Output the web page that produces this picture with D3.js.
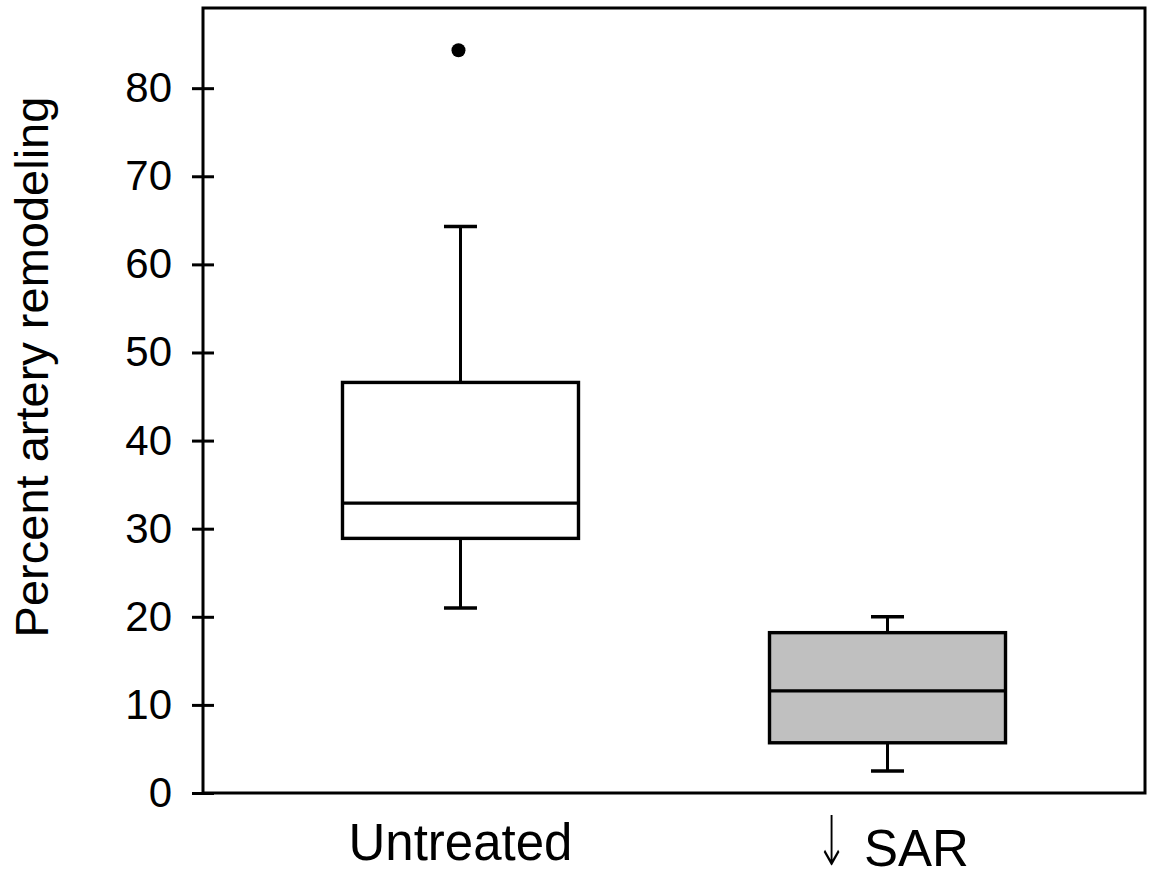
<!DOCTYPE html>
<html>
<head>
<meta charset="utf-8">
<script src="https://cdn.jsdelivr.net/npm/d3@7"></script>
<style>
  html, body { margin: 0; padding: 0; background: #fff; }
  svg { display: block; font-family: "Liberation Sans", Arial, sans-serif; }
</style>
</head>
<body>
<div id="chart"></div>
<script>
// Data
const groups = ['Untreated', 'SAR'];
const groupWords = ['Untreated', 'SAR'];
const groupArrows = ['', '\u2193'];
const lowerWhisker = [21.0, 2.5];
const q1 = [28.9, 5.7];
const median = [32.9, 11.6];
const q3 = [46.6, 18.2];
const upperWhisker = [64.3, 20.0];
const outliers = [[84.3], []];
const fills = ['#ffffff', '#c0c0c0'];
const yTicks = [0, 10, 20, 30, 40, 50, 60, 70, 80];

const width = 1149, height = 882;
const margin = { top: 8, right: 4, bottom: 89, left: 203 };

const svg = d3.select('#chart').append('svg')
    .attr('width', width)
    .attr('height', height);

const x = d3.scalePoint()
    .domain(groups)
    .range([margin.left, width - margin.right])
    .padding(0.603);

const y = d3.scaleLinear()
    .domain([0, 89.1])
    .range([height - margin.bottom, margin.top]);

const boxW = 236, capW = 33;

// Boxes
const box = svg.append('g')
    .selectAll('g')
    .data(groups)
    .join('g');

box.append('line')
    .attr('x1', d => x(d)).attr('x2', d => x(d))
    .attr('y1', (d, i) => y(upperWhisker[i])).attr('y2', (d, i) => y(q3[i]))
    .attr('stroke', '#000').attr('stroke-width', 3);
box.append('line')
    .attr('x1', d => x(d)).attr('x2', d => x(d))
    .attr('y1', (d, i) => y(q1[i])).attr('y2', (d, i) => y(lowerWhisker[i]))
    .attr('stroke', '#000').attr('stroke-width', 3);
box.append('line')
    .attr('x1', d => x(d) - capW / 2).attr('x2', d => x(d) + capW / 2)
    .attr('y1', (d, i) => y(upperWhisker[i])).attr('y2', (d, i) => y(upperWhisker[i]))
    .attr('stroke', '#000').attr('stroke-width', 3.5);
box.append('line')
    .attr('x1', d => x(d) - capW / 2).attr('x2', d => x(d) + capW / 2)
    .attr('y1', (d, i) => y(lowerWhisker[i])).attr('y2', (d, i) => y(lowerWhisker[i]))
    .attr('stroke', '#000').attr('stroke-width', 3.5);

box.append('rect')
    .attr('x', d => x(d) - boxW / 2)
    .attr('width', boxW)
    .attr('y', (d, i) => y(q3[i]))
    .attr('height', (d, i) => y(q1[i]) - y(q3[i]))
    .attr('fill', (d, i) => fills[i])
    .attr('stroke', '#000')
    .attr('stroke-width', 3.4);

box.append('line')
    .attr('x1', d => x(d) - boxW / 2).attr('x2', d => x(d) + boxW / 2)
    .attr('y1', (d, i) => y(median[i])).attr('y2', (d, i) => y(median[i]))
    .attr('stroke', '#000').attr('stroke-width', 3.2);

box.selectAll('circle')
    .data((d, i) => outliers[i].map(v => ({ g: d, v })))
    .join('circle')
    .attr('cx', d => x(d.g) - 2)
    .attr('cy', d => y(d.v))
    .attr('r', 7)
    .attr('fill', '#000');

// Frame
svg.append('rect')
    .attr('x', margin.left)
    .attr('y', margin.top)
    .attr('width', width - margin.left - margin.right)
    .attr('height', height - margin.top - margin.bottom)
    .attr('fill', 'none')
    .attr('stroke', '#000')
    .attr('stroke-width', 3);

// Y axis (ticks crossing the frame)
const yAxis = svg.append('g')
    .attr('transform', `translate(${margin.left + 11},0)`)
    .call(d3.axisLeft(y).tickValues(yTicks).tickSize(22).tickPadding(20).tickFormat(d3.format('d')));
yAxis.select('.domain').remove();
yAxis.selectAll('.tick line').attr('stroke', '#000').attr('stroke-width', 3);
yAxis.selectAll('.tick text')
    .attr('fill', '#000')
    .style('font-size', '42px')
    .style('font-family', '"Liberation Sans", Arial, sans-serif');

// X labels
const xl = svg.append('g')
    .selectAll('g')
    .data(groups)
    .join('g');

xl.append('text')
    .attr('x', (d, i) => x(d) + (groupArrows[i] ? 29 : 0))
    .attr('y', (d, i) => groupArrows[i] ? 866 : 860)
    .attr('text-anchor', 'middle')
    .style('font-size', '51px')
    .attr('fill', '#000')
    .text((d, i) => groupWords[i]);

// thin, tall arrow in front of the SAR label
xl.filter((d, i) => groupArrows[i])
    .append('text')
    .attr('transform', d => `translate(${x(d) - 56},865) scale(0.75,1.32)`)
    .attr('text-anchor', 'middle')
    .style('font-family', '"DejaVu Sans", sans-serif')
    .style('font-size', '52px')
    .style('font-weight', '200')
    .attr('fill', '#000')
    .text(d => groupArrows[groups.indexOf(d)]);

// Y title
svg.append('text')
    .attr('transform', 'translate(48,367) rotate(-90)')
    .attr('text-anchor', 'middle')
    .style('font-size', '47px')
    .attr('fill', '#000')
    .text('Percent artery remodeling');
</script>
</body>
</html>
